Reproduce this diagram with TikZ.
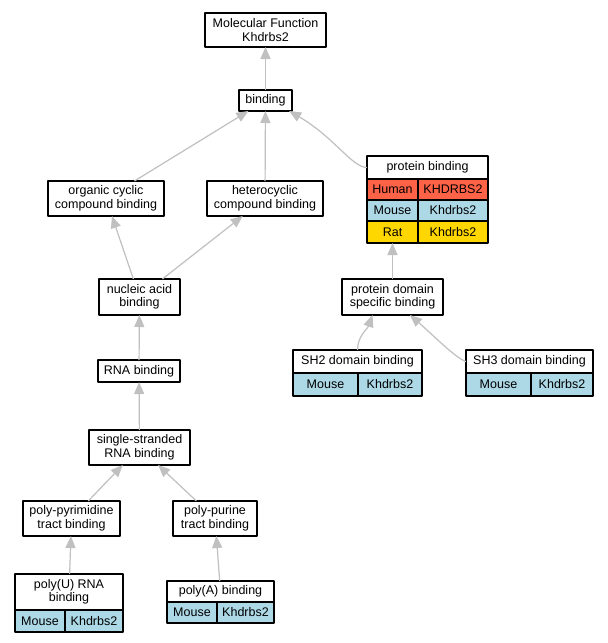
\documentclass[tikz,border=0pt]{standalone}
\usepackage{fontspec}
\setmainfont{Liberation Sans}
\usetikzlibrary{arrows.meta}
\definecolor{human}{HTML}{FF6347}
\definecolor{mouse}{HTML}{ADD8E6}
\definecolor{rat}{HTML}{FFD700}
\definecolor{linkgray}{HTML}{C0C0C0}
\begin{document}
\begin{tikzpicture}[x = 1pt, y = -1pt, line join = round,
	font = \fontsize{12.5}{13.5}\selectfont,
	term/.style = {draw, fill = white, line width = 1.1pt, outer sep = 0pt, inner sep = 2pt,
		align = center, minimum width = #1, minimum height = 21pt},
	tall/.style = {minimum height = 35pt},
	cell/.style = {term = #1, anchor = north west},
	link/.style = {draw = linkgray, line width = 1.2pt,
		-{Triangle[length = 12pt, width = 10pt]}}]
	\useasboundingbox[fill = white] (0,0) rectangle (608,643);
	% plain terms
	\node[term = 121pt, tall, minimum height = 34pt] (mf) at (265.5,30) {Molecular Function\\Khdrbs2};
	\node[term = 53pt] (bind) at (265.5,100.5) {binding};
	\node[term = 116pt, tall] (org) at (106,198.5) {organic cyclic\\compound binding};
	\node[term = 116pt, tall] (het) at (265,198.5) {heterocyclic\\compound binding};
	\node[term = 81pt, tall, minimum height = 36pt] (nuc) at (139.5,297) {nucleic acid\\binding};
	\node[term = 101pt, tall, minimum height = 36pt] (pds) at (392.5,297) {protein domain\\specific binding};
	\node[term = 82pt, minimum height = 22pt] (rna) at (139,371) {RNA binding};
	\node[term = 101pt, tall] (ss) at (139.5,447.5) {single-stranded\\RNA binding};
	\node[term = 97pt, tall] (ppyr) at (71.5,518.5) {poly-pyrimidine\\tract binding};
	\node[term = 84pt, tall] (ppur) at (215,518.5) {poly-purine\\tract binding};
	% terms with genes
	\node[term = 121pt, minimum height = 23pt] (pbh) at (427.5,167.5) {protein binding};
	\node[cell = 51pt, fill = human] (pbhu) at (pbh.south west) {Human};
	\node[cell = 70pt, fill = human] (pbhk) at (pbhu.north east) {KHDRBS2};
	\node[cell = 51pt, fill = mouse] (pbmo) at (pbhu.south west) {Mouse};
	\node[cell = 70pt, fill = mouse] (pbmk) at (pbmo.north east) {Khdrbs2};
	\node[cell = 51pt, fill = rat, minimum height = 22pt] (pbra) at (pbmo.south west) {Rat};
	\node[cell = 70pt, fill = rat, minimum height = 22pt] (pbrk) at (pbra.north east) {Khdrbs2};
	\node[term = 129pt, minimum height = 23pt] (sh2h) at (357.5,361.5) {SH2 domain binding};
	\node[cell = 65pt, fill = mouse, minimum height = 23pt] (sh2m) at (sh2h.south west) {Mouse};
	\node[cell = 64pt, fill = mouse, minimum height = 23pt] (sh2k) at (sh2m.north east) {Khdrbs2};
	\node[term = 127pt, minimum height = 23pt] (sh3h) at (529.5,361.5) {SH3 domain binding};
	\node[cell = 65pt, fill = mouse, minimum height = 23pt] (sh3m) at (sh3h.south west) {Mouse};
	\node[cell = 62pt, fill = mouse, minimum height = 23pt] (sh3k) at (sh3m.north east) {Khdrbs2};
	\node[term = 108pt, minimum height = 36pt] (pUh) at (69,592) {poly(U) RNA\\binding};
	\node[cell = 50pt, fill = mouse, minimum height = 22pt] (pUm) at (pUh.south west) {Mouse};
	\node[cell = 58pt, fill = mouse, minimum height = 22pt] (pUk) at (pUm.north east) {Khdrbs2};
	\node[term = 107pt] (pAh) at (220.5,591.5) {poly(A) binding};
	\node[cell = 50pt, fill = mouse] (pAm) at (pAh.south west) {Mouse};
	\node[cell = 57pt, fill = mouse] (pAk) at (pAm.north east) {Khdrbs2};
	% is_a links
	\foreach \a/\b in {bind/mf, org/bind, het/bind, nuc/org, nuc/het, rna/nuc, ss/rna,
		ppyr/ss, ppur/ss, pUh/ppyr, pAh/ppur, pds/pbra}
	\draw[link] (\a) -- (\b);
	\draw[link] (pbh.west) .. controls +(-15,0) and +(45,26) .. (bind.336);
	\draw[link] (sh2h.north) .. controls +(0,-14) and +(-5,14) .. (pds.222);
	\draw[link] (sh3h.west) .. controls +(-10,-3) and +(22,19) .. (pds.314);
\end{tikzpicture}
\end{document}
